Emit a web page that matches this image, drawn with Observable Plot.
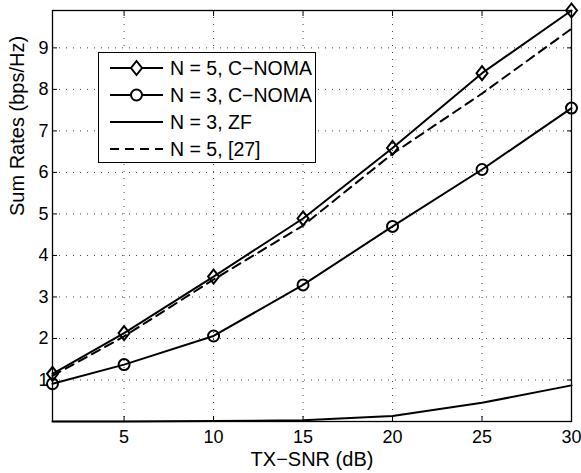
<!DOCTYPE html>
<html><head><meta charset="utf-8">
<script src="https://cdn.jsdelivr.net/npm/d3@7"></script>
<script src="https://cdn.jsdelivr.net/npm/@observablehq/plot@0.6"></script>
<style>
body{margin:0;background:#fff}
#wrap{position:relative;width:581px;height:473px}
#legend{position:absolute;left:98px;top:52px}
#wrap g[aria-label$="tick label"] text{font-size:18px !important}
</style>
</head><body><div id="wrap"></div>
<script>
const snr   = [1, 5, 10, 15, 20, 25, 30];
const noma5 = [1.15, 2.13, 3.49, 4.89, 6.59, 8.39, 9.90];
const noma3 = [0.91, 1.37, 2.06, 3.29, 4.70, 6.07, 7.55];
const zf3   = [0.00, 0.00, 0.01, 0.03, 0.13, 0.45, 0.87];
const ref5  = [1.10, 2.05, 3.42, 4.72, 6.45, 7.90, 9.46];
const seriesNames = ["N = 5, C\u2212NOMA", "N = 3, C\u2212NOMA", "N = 3, ZF", "N = 5, [27]"];
const xTicks = [5, 10, 15, 20, 25, 30];
const yTicks = [1, 2, 3, 4, 5, 6, 7, 8, 9];
const xLabel = "TX\u2212SNR (dB)";
const yLabel = "Sum Rates (bps/Hz)";

const font = "'Liberation Sans', Arial, Helvetica, sans-serif";
const diamond = {draw(ctx){ const h = 7, w = 5.5; ctx.moveTo(0,-h); ctx.lineTo(w,0); ctx.lineTo(0,h); ctx.lineTo(-w,0); ctx.closePath(); }};
const mk = (ys) => snr.map((x, i) => ({x, y: ys[i]}));
const d5 = mk(noma5), d3s = mk(noma3), dzf = mk(zf3), dref = mk(ref5);

const chart = Plot.plot({
  width: 581, height: 473,
  marginLeft: 52, marginRight: 10, marginTop: 10, marginBottom: 52,
  style: {fontFamily: font, fontSize: "18px", background: "white", color: "black", overflow: "visible"},
  x: {domain: [1, 30]},
  y: {domain: [0, 9.9]},
  marks: [
    Plot.gridX(xTicks, {stroke: "#000", strokeOpacity: 0.75, strokeDasharray: "1,6"}),
    Plot.gridY(yTicks, {stroke: "#000", strokeOpacity: 0.75, strokeDasharray: "1,6"}),
    Plot.axisX(xTicks, {anchor: "bottom", tickSize: -5, tickPadding: 14, label: null, fontSize: 18}),
    Plot.axisX(xTicks, {anchor: "top", tickSize: -5, tickFormat: () => "", label: null}),
    Plot.axisY(yTicks, {anchor: "left", tickSize: -5, tickPadding: 9, label: null, fontSize: 18}),
    Plot.axisY(yTicks, {anchor: "right", tickSize: -5, tickFormat: () => "", label: null}),
    Plot.text([xLabel], {frameAnchor: "bottom", dy: 38, fontSize: 20, lineAnchor: "middle"}),
    Plot.text([yLabel], {frameAnchor: "left", dx: -35, rotate: -90, fontSize: 20, lineAnchor: "middle"}),
    Plot.line(dzf, {x: "x", y: "y", stroke: "black", strokeWidth: 2}),
    Plot.line(dref, {x: "x", y: "y", stroke: "black", strokeWidth: 2, strokeDasharray: "9,6"}),
    Plot.line(d3s, {x: "x", y: "y", stroke: "black", strokeWidth: 2}),
    Plot.dot(d3s, {x: "x", y: "y", r: 5.5, stroke: "black", strokeWidth: 2, fill: "none"}),
    Plot.line(d5, {x: "x", y: "y", stroke: "black", strokeWidth: 2}),
    Plot.dot(d5, {x: "x", y: "y", symbol: diamond, stroke: "black", strokeWidth: 2, fill: "none"}),
    Plot.frame({stroke: "black", strokeWidth: 1.3})
  ]
});
const wrap = document.getElementById("wrap");
wrap.appendChild(chart);

// legend
const lw = 218, lh = 111;
const leg = d3.create("svg").attr("id", "legend").attr("width", lw).attr("height", lh)
  .style("font-family", font);
leg.append("rect").attr("x", 0.5).attr("y", 0.5).attr("width", lw - 1).attr("height", lh - 1)
  .attr("fill", "white").attr("stroke", "black").attr("stroke-width", 1);
const styles = [
  {dash: null, marker: "diamond"},
  {dash: null, marker: "circle"},
  {dash: null, marker: null},
  {dash: "9,6", marker: null}
];
seriesNames.forEach((name, i) => {
  const cy = 16 + i * 27;
  const g = leg.append("g");
  g.append("line").attr("x1", 12).attr("x2", 65).attr("y1", cy).attr("y2", cy)
    .attr("stroke", "black").attr("stroke-width", 2).attr("stroke-dasharray", styles[i].dash);
  if (styles[i].marker === "circle") {
    g.append("circle").attr("cx", 38.5).attr("cy", cy).attr("r", 5.5).attr("fill", "white").attr("stroke", "black").attr("stroke-width", 2);
  } else if (styles[i].marker === "diamond") {
    g.append("path").attr("d", `M38.5,${cy-7}L44,${cy}L38.5,${cy+7}L33,${cy}Z`).attr("fill", "white").attr("stroke", "black").attr("stroke-width", 2);
  }
  g.append("text").attr("x", 72).attr("y", cy).attr("dy", "0.36em").attr("font-size", 19.5).text(name);
});
wrap.appendChild(leg.node());
</script>
</body></html>
